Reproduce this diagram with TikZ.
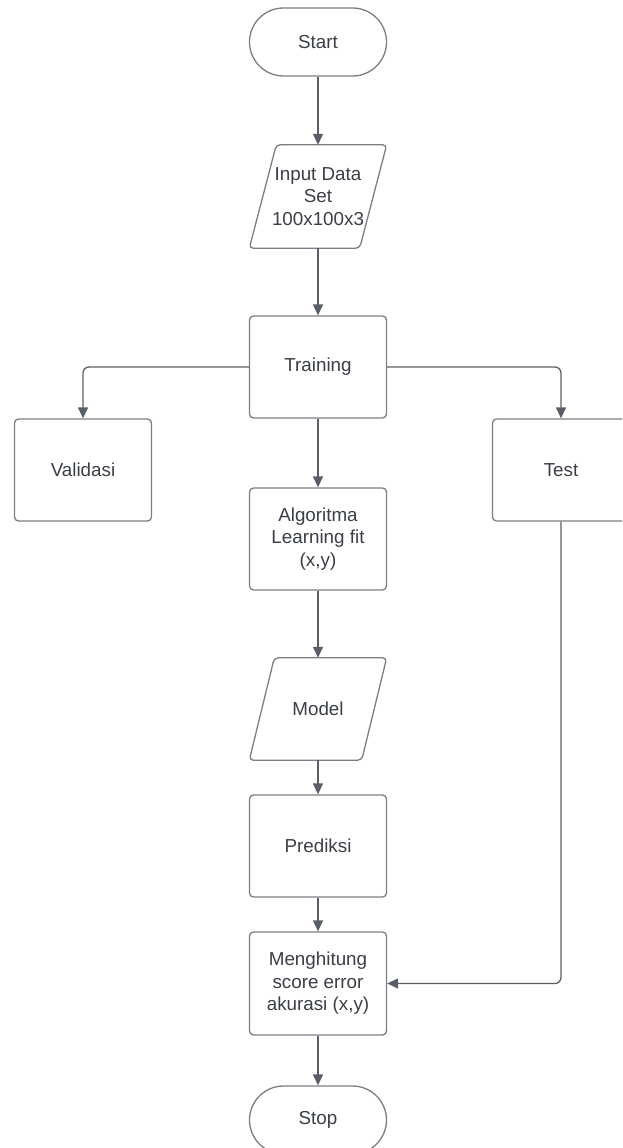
\documentclass[tikz,border=0pt]{standalone}
\usepackage{fontspec}
\setmainfont{Liberation Sans}
\usetikzlibrary{arrows.meta}
\definecolor{bordercol}{HTML}{7A7E85}
\definecolor{linecol}{HTML}{5A5F67}
\definecolor{textcol}{HTML}{3A3F47}
\begin{document}
\begin{tikzpicture}[x=1pt,y=1pt,
  every node/.style={font=\fontsize{18.8}{22.5}\selectfont, text=textcol, align=center},
  procbox/.style={draw=bordercol, line width=1.3pt, rounded corners=4pt, minimum width=137pt, minimum height=102pt, fill=white},
  termbox/.style={draw=bordercol, line width=1.3pt, rounded corners=34pt, minimum width=137pt, minimum height=68pt, fill=white},
  iobox/.style={minimum width=137pt, minimum height=103pt, inner sep=0pt},
  iodraw/.style={draw=bordercol, line width=1.3pt, rounded corners=4pt, fill=white},
  conn/.style={draw=linecol, line width=1.3pt, rounded corners=6pt, -{Triangle[length=11pt,width=10pt]}}
]
\useasboundingbox (0,0) rectangle (622,-1148);
\clip (0,0) rectangle (622,-1148);
% nodes
\node[termbox] (start) at (318,-42) {Start};
\node[iobox] (input) at (318,-196.5) {};
\draw[iodraw] ([xshift=27pt]input.north west) -- (input.north east) -- ([xshift=-27pt]input.south east) -- (input.south west) -- cycle;
\node at (input.center) {Input Data\\Set\\100x100x3};
\node[procbox] (train) at (318,-367) {Training};
\node[procbox] (valid) at (83,-470) {Validasi};
\node[procbox] (test) at (561,-470) {Test};
\node[procbox] (algo) at (318,-539) {Algoritma\\Learning fit\\(x,y)};
\node[iobox, minimum height=102pt] (model) at (318,-709) {};
\draw[iodraw] ([xshift=25pt]model.north west) -- (model.north east) -- ([xshift=-25pt]model.south east) -- (model.south west) -- cycle;
\node at (model.center) {Model};
\node[procbox] (pred) at (318,-846) {Prediksi};
\node[procbox, minimum height=103pt] (hitung) at (318,-983.5) {Menghitung\\score error\\akurasi (x,y)};
\node[termbox] (stop) at (318,-1120) {Stop};
% connectors
\draw[conn] (start) -- (input);
\draw[conn] (input) -- (train);
\draw[conn] (train.west) -| (valid.north);
\draw[conn] (train.east) -| (test.north);
\draw[conn] (train) -- (algo);
\draw[conn] (algo) -- (model);
\draw[conn] (model) -- (pred);
\draw[conn] (pred) -- (hitung);
\draw[conn] (test.south) |- (hitung.east);
\draw[conn] (hitung) -- (stop);
\end{tikzpicture}
\end{document}
